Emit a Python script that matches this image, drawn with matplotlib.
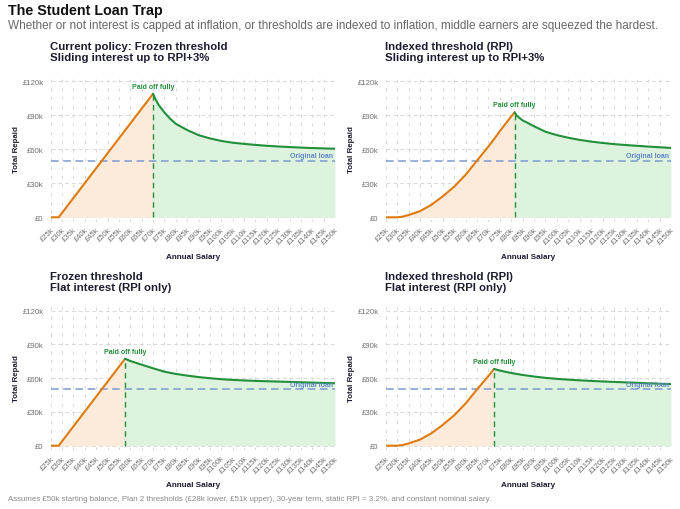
import matplotlib
matplotlib.use("Agg")
import matplotlib.pyplot as plt

plt.rcParams['font.family'] = ['Liberation Sans', 'DejaVu Sans']

# ---------------- text ----------------
TITLE = "The Student Loan Trap"
SUBTITLE = ("Whether or not interest is capped at inflation, or thresholds are indexed to "
            "inflation, middle earners are squeezed the hardest.")
CAPTION = ("Assumes £50k starting balance, Plan 2 thresholds (£28k lower, £51k upper), "
           "30-year term, static RPI = 3.2%, and constant nominal salary.")
panel_titles = [
    "Current policy: Frozen threshold\nSliding interest up to RPI+3%",
    "Indexed threshold (RPI)\nSliding interest up to RPI+3%",
    "Frozen threshold\nFlat interest (RPI only)",
    "Indexed threshold (RPI)\nFlat interest (RPI only)",
]
x_label = "Annual Salary"
y_label = "Total Repaid"
paid_label = "Paid off fully"
loan_label = "Original loan"

# ---------------- data (£k) ----------------
x_ticks = list(range(25, 151, 5))
x_tick_labels = [f"£{v}k" for v in x_ticks]
y_ticks = [0, 30, 60, 90, 120]
y_tick_labels = ["£0", "£30k", "£60k", "£90k", "£120k"]
original_loan = 50

# Panel 1: frozen threshold, sliding interest
p1_before_x = [25, 28.5, 70]
p1_before_y = [0, 0, 109]
p1_after_x = [70, 71, 72.5, 75, 77.5, 80, 85, 90, 95, 100, 105, 110, 115, 120, 125, 130, 135, 140, 145, 150]
p1_after_y = [109, 104.5, 99, 92.5, 87, 82.5, 77, 72.5, 69.6, 67.4, 65.8, 64.8, 63.9, 63.1, 62.5, 62, 61.5, 61.1, 60.8, 60.5]

# Panel 2: indexed threshold, sliding interest
p2_before_x = [25, 30, 32.5, 35, 40, 45, 50, 55, 60, 65, 70, 72.5, 75, 80, 81.5]
p2_before_y = [0, 0, 0.6, 2, 5.4, 11, 18.5, 27, 37.5, 50, 62.5, 69, 76, 89, 92.6]
p2_after_x = [81.5, 82.5, 85, 87.5, 90, 95, 100, 105, 110, 115, 120, 125, 130, 135, 140, 145, 150]
p2_after_y = [92.6, 89.5, 85.5, 83, 80.3, 75.5, 72.5, 70.2, 68.3, 66.8, 65.6, 64.6, 63.8, 63.1, 62.4, 61.8, 61.2]

# Panel 3: frozen threshold, flat interest
p3_before_x = [25, 28.5, 57.7]
p3_before_y = [0, 0, 77.3]
p3_after_x = [57.7, 60, 65, 70, 75, 80, 85, 90, 95, 100, 105, 110, 115, 120, 125, 130, 135, 140, 145, 150]
p3_after_y = [77.3, 75.3, 72, 68.8, 65.8, 63.8, 62.3, 61, 60, 59.1, 58.5, 58, 57.6, 57.3, 57, 56.7, 56.4, 56.1, 55.8, 55.5]

# Panel 4: indexed threshold, flat interest
p4_before_x = [25, 30, 32.5, 35, 40, 45, 50, 55, 60, 65, 70, 72.5]
p4_before_y = [0, 0, 0.6, 2, 5.4, 11, 18.5, 27, 37.5, 50, 62, 68.2]
p4_after_x = [72.5, 75, 80, 85, 90, 95, 100, 105, 110, 115, 120, 125, 130, 135, 140, 145, 150]
p4_after_y = [68.2, 66.8, 64.6, 62.9, 61.5, 60.3, 59.4, 58.7, 58.1, 57.6, 57.1, 56.7, 56.3, 55.9, 55.5, 55.1, 54.8]

panels = [
    (p1_before_x, p1_before_y, p1_after_x, p1_after_y),
    (p2_before_x, p2_before_y, p2_after_x, p2_after_y),
    (p3_before_x, p3_before_y, p3_after_x, p3_after_y),
    (p4_before_x, p4_before_y, p4_after_x, p4_after_y),
]

# ---------------- style ----------------
ORANGE = "#DF7A0E"
ORANGE_FILL = "#FCEBDA"
GREEN = "#22903B"
GREEN_FILL = "#DDF3DE"
BLUE = "#7C9AD0"
BLUE_TXT = "#5F86C6"
DARK = "#1C1C30"
GRID = "#D9D9D9"
TICK = "#707070"

W, H = 680, 510
fig = plt.figure(figsize=(W / 100, H / 100), dpi=100, facecolor="white")

YMIN, YMAX = -4, 126


def px_axes(left, right, zero_y, pxk):
    top = zero_y - YMAX * pxk
    bottom = zero_y - YMIN * pxk
    return [left / W, 1 - bottom / H, (right - left) / W, (bottom - top) / H]


rects = [
    px_axes(50.7, 335, 218.3, 1.1333),
    px_axes(385.7, 671, 218.3, 1.1333),
    px_axes(50.7, 335, 446.7, 1.125),
    px_axes(385.7, 671, 446.7, 1.125),
]
title_tops = [41.5, 41.5, 271.5, 271.5]
title_lefts = [50, 385, 50, 385]

for i, (bx, by, ax_x, ax_y) in enumerate(panels):
    ax = fig.add_axes(rects[i])
    ax.set_xlim(25, 150)
    ax.set_ylim(YMIN, YMAX)
    for s in ax.spines.values():
        s.set_visible(False)
    ax.set_xticks(x_ticks)
    ax.set_xticklabels(x_tick_labels, rotation=45, ha="right", va="top",
                       rotation_mode="anchor", fontsize=5.5, color=TICK)
    ax.set_yticks(y_ticks)
    ax.set_yticklabels(y_tick_labels, fontsize=5.6, color=TICK)
    ax.tick_params(which="both", length=0)
    ax.tick_params(axis="x", pad=3)
    ax.tick_params(axis="y", pad=5)
    ax.grid(True, which="major", axis="x", linestyle=(0, (3, 6)), color=GRID, linewidth=0.7)
    ax.grid(True, which="major", axis="y", linestyle=(0, (4, 3)), color=GRID, linewidth=0.7)
    ax.set_axisbelow(True)

    ax.fill_between(bx, by, 0, color=ORANGE_FILL, linewidth=0, zorder=1)
    ax.fill_between(ax_x, ax_y, 0, color=GREEN_FILL, linewidth=0, zorder=1)
    ax.axhline(original_loan, color=BLUE, linestyle=(0, (5, 3)), linewidth=1.1, zorder=2)
    ax.plot(bx, by, color=ORANGE, linewidth=1.5, zorder=4, solid_capstyle="round")
    ax.plot(ax_x, ax_y, color=GREEN, linewidth=1.5, zorder=4, solid_capstyle="round")
    ax.vlines(ax_x[0], 0, ax_y[0], color=GREEN, linestyle=(0, (4, 3)), linewidth=1.0, zorder=3)
    ax.text(ax_x[0], ax_y[0] + 3.5, paid_label, ha="center", va="bottom",
            color=GREEN, fontsize=5.0, fontweight="bold", zorder=5)
    ax.text(149, original_loan + 1.2, loan_label, ha="right", va="bottom",
            color=BLUE_TXT, fontsize=5.0, fontweight="bold", zorder=5)

    ax.set_xlabel(x_label, fontsize=5.9, fontweight="bold", color=DARK, labelpad=5)
    ax.set_ylabel(y_label, fontsize=5.7, fontweight="bold", color=DARK, labelpad=2)

    fig.text(title_lefts[i] / W, 1 - title_tops[i] / H, panel_titles[i],
             ha="left", va="top", fontsize=8.2, fontweight="bold", color=DARK,
             linespacing=1.15)

fig.text(8 / W, 1 - 4 / H, TITLE, ha="left", va="top", fontsize=10.3,
         fontweight="bold", color="#111111")
fig.text(8 / W, 1 - 20 / H, SUBTITLE, ha="left", va="top", fontsize=8.45, color="#666666")
fig.text(8 / W, 1 - 496 / H, CAPTION, ha="left", va="top", fontsize=5.7, color="#8A8A8A")

fig.savefig("out.png", dpi=100, facecolor="white")
